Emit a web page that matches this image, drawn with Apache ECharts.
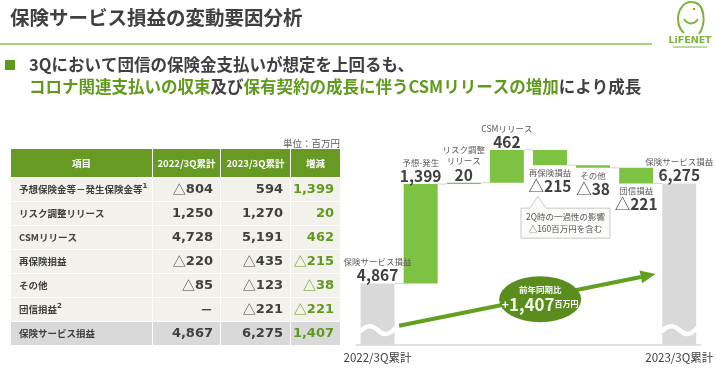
<!DOCTYPE html>
<html><head><meta charset="utf-8">
<script src="https://cdn.jsdelivr.net/npm/echarts@6/dist/echarts.min.js"></script>
<style>html,body{margin:0;padding:0;background:#fff}#c{width:716px;height:373px}</style>
</head><body><div id="c"></div>
<script>
// ---------- DATA ----------
const categories = ['2022/3Q累計','予想-発生','リスク調整リリース','CSMリリース','再保険損益','その他','団信損益','2023/3Q累計'];
const barNames = ['保険サービス損益','予想-発生','リスク調整\nリリース','CSMリリース','再保険損益','その他','団信損益','保険サービス損益'];
const axisLabels = ['2022/3Q累計','','','','','','','2023/3Q累計'];
const changeValues = [4867, 1399, 20, 462, -215, -38, -221, 6275];
const isTotal = [true,false,false,false,false,false,false,true];
const valueLabels = ['4,867','1,399','20','462','△215','△38','△221','6,275'];

const tableHeader = ['項目','2022/3Q累計','2023/3Q累計','増減'];
const tableItems = ['予想保険金等－発生保険金等','リスク調整リリース','CSMリリース','再保険損益','その他','団信損益','保険サービス損益'];
const tableNotes = ['1','','','','','2',''];
const table2022 = ['△804','1,250','4,728','△220','△85','－','4,867'];
const table2023 = ['594','1,270','5,191','△435','△123','△221','6,275'];
const tableDiff = ['1,399','20','462','△215','△38','△221','1,407'];
const yoyLabel = '1,407';

// ---------- STYLE ----------
const JP = '"Noto Sans CJK JP", sans-serif';
const NUM = '"DejaVu Sans", "Noto Sans CJK JP", sans-serif';
const DARK = '#404040';
const GREEN_TXT = '#5f9a1c';
const BAR_GREEN = '#7dc242';
const BAR_GRAY = '#d9d9d9';

// ---------- WATERFALL DERIVED ----------
const base = [], span = [], levels = [];
let cum = 0;
changeValues.forEach((v, i) => {
  if (isTotal[i]) { base.push(0); span.push(v); cum = v; }
  else { const prev = cum; cum += v; base.push(Math.min(prev, cum)); span.push(Math.abs(v)); }
  levels.push(cum);
});

function labelText(i) {
  const v = valueLabels[i];
  const vs = v.startsWith('△') ? '{t|△}{v|' + v.slice(1) + '}' : '{v|' + v + '}';
  const names = barNames[i].split('\n').map(s => '{n|' + s + '}').join('\n');
  return names + '\n' + vs;
}

const chart = echarts.init(document.getElementById('c'));
const BW = 34;

chart.setOption({
  animation: false,
  grid: { left: 356, right: 11, top: 132, bottom: 28 },
  xAxis: {
    type: 'category', data: categories,
    axisTick: { show: false },
    axisLine: { lineStyle: { color: '#d9d9d9', width: 1.5 } },
    axisLabel: { interval: 0, margin: 7, color: DARK, fontSize: 11.5, fontFamily: JP,
      formatter: (v, i) => axisLabels[i] }
  },
  yAxis: { type: 'value', min: 4000, max: 7000, show: false, splitLine: { show: false } },
  series: [
    { type: 'bar', stack: 'w', data: base, barWidth: BW, silent: true,
      itemStyle: { color: 'transparent' }, emphasis: { disabled: true } },
    { type: 'bar', stack: 'w', barWidth: BW, silent: true, emphasis: { disabled: true },
      data: span.map((v, i) => ({
        value: v,
        itemStyle: { color: isTotal[i] ? BAR_GRAY : BAR_GREEN },
        label: { position: (!isTotal[i] && changeValues[i] < 0) ? 'bottom' : 'top',
                 distance: (!isTotal[i] && changeValues[i] < 0) ? 2 : 0 }
      })),
      label: {
        show: true, formatter: p => labelText(p.dataIndex), align: 'center',
        rich: {
          n: { fontSize: 8.5, color: '#595959', fontFamily: JP, lineHeight: 11, align: 'center' },
          v: { fontSize: 15.5, fontWeight: 'bold', color: DARK, fontFamily: JP, lineHeight: 16, align: 'center' },
          t: { fontSize: 15.5, color: DARK, fontFamily: JP, lineHeight: 16, align: 'center' }
        }
      }
    },
    { type: 'custom', silent: true, z: 1,
      data: levels.slice(0, levels.length - 1).map((l, i) => [i, l]),
      renderItem: (params, api) => {
        const i = api.value(0), l = api.value(1);
        const p = api.coord([i, l]), q = api.coord([i + 1, l]);
        return { type: 'line', shape: { x1: p[0] + BW / 2, y1: p[1], x2: q[0] - BW / 2, y2: q[1] },
          style: { stroke: '#d4d4d4', lineWidth: 1 } };
      }
    },
    { type: 'custom', silent: true, z: 5,
      data: [[0, 4215], [7, 4215]],
      renderItem: (params, api) => {
        const c = api.coord([api.value(0), api.value(1)]);
        const L = c[0] - BW / 2 - 1, R = c[0] + BW / 2 + 1, y = c[1];
        const w = R - L;
        return { type: 'path', shape: { pathData:
          `M${L},${y + 2} C${L + w * 0.25},${y - 7} ${L + w * 0.4},${y - 3} ${L + w * 0.5},${y}` +
          ` C${L + w * 0.62},${y + 4} ${L + w * 0.75},${y + 8} ${R},${y - 2}` },
          style: { stroke: '#ffffff', lineWidth: 4.5, fill: null } };
      }
    }
  ]
});

// ---------- GRAPHICS ----------
const g = [];
// title
g.push({ type: 'text', style: { text: '保険サービス損益の変動要因分析', x: 10, y: 18, verticalAlign: 'middle',
  fill: DARK, font: 'bold 19.5px ' + JP } });
g.push({ type: 'line', shape: { x1: 0, y1: 44, x2: 652, y2: 44 }, style: { stroke: '#8dbf55', lineWidth: 1.5 } });
// logo
const LG = '#7ab33a';
g.push({ type: 'bezierCurve', shape: { x1: 684, y1: 33, cpx1: 673, cpy1: 24, cpx2: 678, cpy2: 2, x2: 691, y2: 2 },
  style: { stroke: LG, lineWidth: 2, fill: null } });
g.push({ type: 'bezierCurve', shape: { x1: 691, y1: 2, cpx1: 706, cpy1: 2, cpx2: 706, cpy2: 24, x2: 699, y2: 34 },
  style: { stroke: LG, lineWidth: 2, fill: null } });
g.push({ type: 'bezierCurve', shape: { x1: 684, y1: 19, cpx1: 688, cpy1: 25, cpx2: 694, cpy2: 25, x2: 698, y2: 19 },
  style: { stroke: LG, lineWidth: 1.8, fill: null } });
g.push({ type: 'circle', shape: { cx: 694, cy: 9, r: 1.2 }, style: { fill: LG } });
g.push({ type: 'text', style: { text: 'LiFENET', x: 690, y: 41, align: 'center', verticalAlign: 'middle',
  fill: LG, font: 'bold 9.5px ' + NUM } });
g.push({ type: 'line', shape: { x1: 673, y1: 47, x2: 707, y2: 47 }, style: { stroke: LG, lineWidth: 1 } });
// bullet + subtitle
g.push({ type: 'rect', shape: { x: 5, y: 60, width: 10, height: 10 }, style: { fill: '#5f9a1c' } });
g.push({ type: 'text', style: { text: '3Qにおいて団信の保険金支払いが想定を上回るも、', x: 29, y: 65, verticalAlign: 'middle',
  fill: DARK, font: 'bold 16.5px ' + JP } });
g.push({ type: 'text', style: {
  text: '{g|コロナ関連支払いの収束}{d|及び}{g|保有契約の成長に伴うCSMリリースの増加}{d|により成長}',
  x: 29, y: 87, verticalAlign: 'middle',
  rich: { g: { fill: GREEN_TXT, font: 'bold 16.5px ' + JP }, d: { fill: DARK, font: 'bold 16.5px ' + JP } } } });

// table
const colL = [11, 153, 221, 291], colR = [152, 220, 290, 340];
const hdrY = 149, hdrH = 28, rowH = 24;
g.push({ type: 'text', style: { text: '単位：百万円', x: 340, y: 143, align: 'right', verticalAlign: 'middle',
  fill: '#595959', font: '9.5px ' + JP } });
tableHeader.forEach((h, c) => {
  g.push({ type: 'rect', shape: { x: colL[c], y: hdrY, width: colR[c] - colL[c], height: hdrH }, style: { fill: '#669a22' } });
  g.push({ type: 'text', style: { text: h, x: (colL[c] + colR[c]) / 2, y: hdrY + hdrH / 2, align: 'center',
    verticalAlign: 'middle', fill: '#ffffff', font: 'bold 9.5px ' + JP } });
});
function numText(s, color, x, y) {
  const rich = {
    t: { fill: color, font: '13px ' + JP },
    n: { fill: color, font: 'bold 13px ' + NUM },
    j: { fill: color, font: 'bold 13px ' + JP }
  };
  let text;
  if (s.startsWith('△')) text = '{t|△}{n|' + s.slice(1) + '}';
  else if (s === '－') text = '{j|－}';
  else text = '{n|' + s + '}';
  return { type: 'text', style: { text, x, y, align: 'right', verticalAlign: 'middle', rich } };
}
tableItems.forEach((it, r) => {
  const y = hdrY + hdrH + 1 + r * rowH;
  const last = r === tableItems.length - 1;
  for (let c = 0; c < 4; c++) {
    g.push({ type: 'rect', shape: { x: colL[c], y, width: colR[c] - colL[c], height: rowH - 1 },
      style: { fill: last ? '#d9d9d9' : '#f2f1ec' } });
  }
  const cy = y + (rowH - 1) / 2;
  const lab = tableNotes[r] ? '{a|' + it + '}{s|' + tableNotes[r] + '}' : '{a|' + it + '}';
  g.push({ type: 'text', style: { text: lab, x: 19, y: cy, verticalAlign: 'middle',
    rich: { a: { fill: DARK, font: 'bold 9.5px ' + JP, lineHeight: 14 },
            s: { fill: DARK, font: 'bold 7px ' + NUM, verticalAlign: 'top', lineHeight: 14 } } } });
  g.push(numText(table2022[r], DARK, colR[1] - 7, cy));
  g.push(numText(table2023[r], DARK, colR[2] - 7, cy));
  g.push(numText(tableDiff[r], GREEN_TXT, colR[3] - 6, cy));
});

// positions from the chart's own axes
const px = (c, v) => chart.convertToPixel({ gridIndex: 0 }, [c, v]);
const c0 = px(0, 4000), c1 = px(1, 4000);
const step = c1[0] - c0[0];
const catX = c => c0[0] + c * step;
const yOf = v => px(0, v)[1];

// callout under 再保険損益
const rb = catX(4), rBottom = yOf(base[4]);
const bx = rb - 29, bw = 89, by = rBottom + 43, bh = 30;
g.push({ type: 'polygon', shape: { points: [[bx, by], [rb - 20, by], [rb - 12, rBottom + 31], [rb - 4, by], [bx + bw, by], [bx + bw, by + bh], [bx, by + bh]] },
  style: { fill: '#fbfbfa', stroke: '#c8c8c8', lineWidth: 1 } });
g.push({ type: 'text', style: { text: '2Q時の一過性の影響\n△160百万円を含む', x: bx + bw / 2, y: by + bh / 2,
  align: 'center', verticalAlign: 'middle', fill: '#595959', font: '8.5px ' + JP, lineHeight: 12 } });

// yoy arrow
const ax0 = catX(0.5), ay0 = yOf(4270), ax1 = catX(6.45), ay1 = yOf(5000);
const ang = Math.atan2(ay1 - ay0, ax1 - ax0);
const hl = 15, hw = 6.5;
const bxh = ax1 - hl * Math.cos(ang), byh = ay1 - hl * Math.sin(ang);
g.push({ type: 'line', shape: { x1: ax0, y1: ay0, x2: bxh, y2: byh }, style: { stroke: '#64a020', lineWidth: 4 } });
g.push({ type: 'polygon', shape: { points: [[ax1, ay1],
  [bxh - hw * Math.sin(ang), byh + hw * Math.cos(ang)], [bxh + hw * Math.sin(ang), byh - hw * Math.cos(ang)]] },
  style: { fill: '#64a020' } });
const et = 0.55;
const ex = ax0 + (ax1 - ax0) * et, ey = ay0 + (ay1 - ay0) * et + 2;
g.push({ type: 'circle', x: ex, y: ey, scaleX: 41 / 23, scaleY: 1, shape: { cx: 0, cy: 0, r: 23 }, style: { fill: '#5a8c1e' } });
g.push({ type: 'text', style: { text: '前年同期比', x: ex, y: ey - 10, align: 'center', verticalAlign: 'middle',
  fill: '#ffffff', font: 'bold 8.5px ' + JP } });
g.push({ type: 'text', style: { text: '{p|+}{b|' + yoyLabel + '}{u|百万円}', x: ex, y: ey + 5, align: 'center', verticalAlign: 'middle',
  rich: { p: { fill: '#ffffff', font: 'bold 12px ' + JP }, b: { fill: '#f4fbe9', font: 'bold 17px ' + JP },
          u: { fill: '#ffffff', font: 'bold 8px ' + JP } } } });

chart.setOption({ graphic: g });
</script>
</body></html>
